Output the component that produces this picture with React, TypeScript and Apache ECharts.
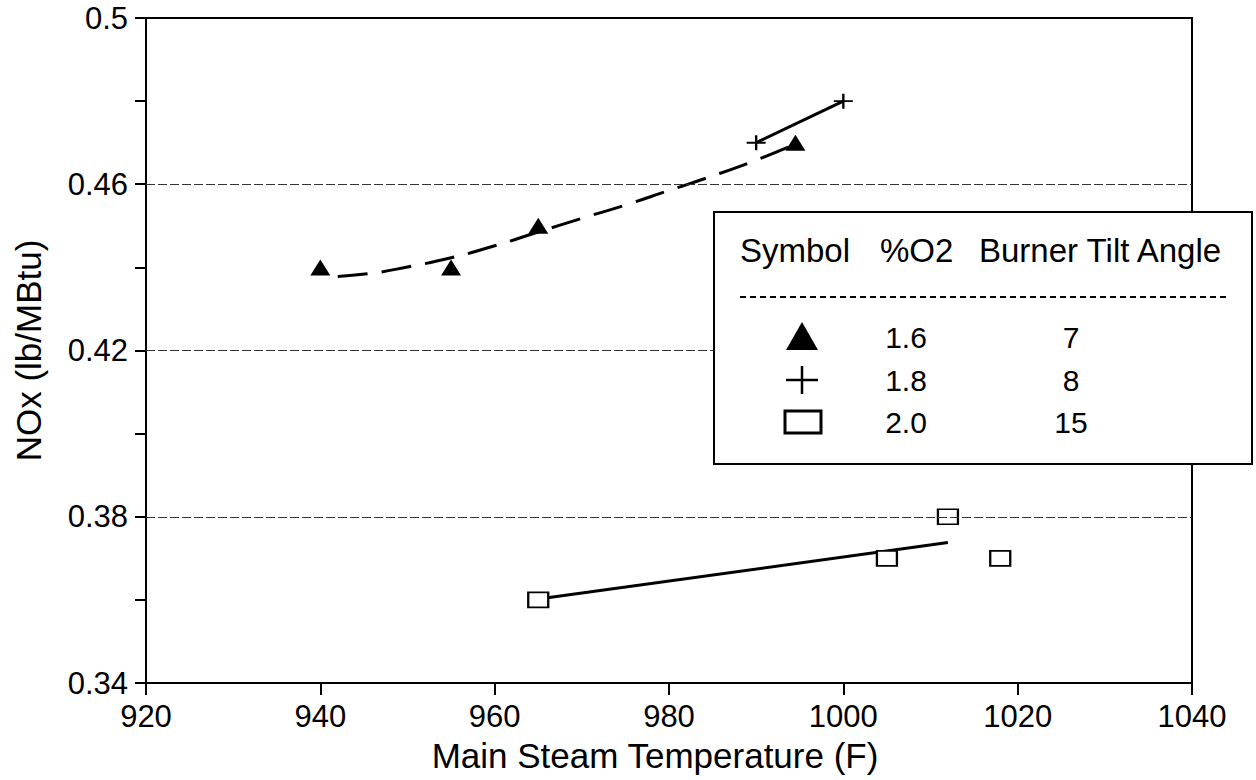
import React, { useEffect, useRef } from "react";
import * as echarts from "echarts";

// Data
const xTicks = [920, 940, 960, 980, 1000, 1020, 1040];
const yLabelTicks = [0.34, 0.38, 0.42, 0.46, 0.5];
const gridValues = [0.38, 0.42, 0.46];

// %O2 1.6, tilt 7 (triangles)
const triPoints: [number, number][] = [
  [940, 0.44],
  [955, 0.44],
  [965, 0.45],
  [994.5, 0.47],
];
// dashed fitted curve through the triangle points
const triCurve: [number, number][] = [
  [942, 0.4378],
  [946, 0.4386],
  [950, 0.4401],
  [955, 0.4423],
  [960, 0.4452],
  [965, 0.4485],
  [970, 0.4518],
  [975, 0.455],
  [980, 0.4585],
  [985, 0.462],
  [990, 0.4658],
  [994, 0.4692],
];
// %O2 1.8, tilt 8 (plus)
const plusPoints: [number, number][] = [
  [990, 0.47],
  [1000, 0.48],
];
// %O2 2.0, tilt 15 (squares)
const squarePoints: [number, number][] = [
  [965, 0.36],
  [1005, 0.37],
  [1012, 0.38],
  [1018, 0.37],
];
const squareFit: [number, number][] = [
  [965, 0.3602],
  [1012, 0.3738],
];

const legendHeader = ["Symbol", "%O2", "Burner Tilt Angle"];
const legendO2 = ["1.6", "1.8", "2.0"];
const legendTilt = ["7", "8", "15"];

const FONT = "'Liberation Sans', Arial, Helvetica, sans-serif";
const PLUS = "path://M0,8.75H20V11.25H0Z M8.75,0H11.25V20H8.75Z";

export default function App() {
  const ref = useRef<HTMLDivElement>(null);
  useEffect(() => {
    if (!ref.current) return;
    const chart = echarts.init(ref.current, undefined, { renderer: "svg" });
    const fmtY = (v: number) => {
      const k = (v - 0.34) / 0.04;
      if (Math.abs(k - Math.round(k)) > 1e-6) return "";
      return String(Number(v.toFixed(2)));
    };
    const rowY = [337, 380, 422];
    const headerFont = `33px ${FONT}`;
    const rowFont = `30px ${FONT}`;
    const legendGraphic: any[] = [
      {
        type: "rect",
        shape: { x: 714, y: 212, width: 538, height: 252 },
        style: { fill: "#fff", stroke: "#000", lineWidth: 2 },
        z: 100,
      },
      {
        type: "text",
        x: 740,
        y: 250,
        style: { text: legendHeader[0], font: headerFont, fill: "#000", textVerticalAlign: "middle" },
        z: 101,
      },
      {
        type: "text",
        x: 880,
        y: 250,
        style: { text: legendHeader[1], font: headerFont, fill: "#000", textVerticalAlign: "middle" },
        z: 101,
      },
      {
        type: "text",
        x: 979,
        y: 250,
        style: { text: legendHeader[2], font: headerFont, fill: "#000", textVerticalAlign: "middle" },
        z: 101,
      },
      {
        type: "line",
        shape: { x1: 740, y1: 297, x2: 1227, y2: 297 },
        style: { stroke: "#000", lineWidth: 2, lineDash: [6, 4] },
        z: 101,
      },
      {
        type: "polygon",
        shape: { points: [[802, rowY[0] - 15], [786, rowY[0] + 13], [818, rowY[0] + 13]] },
        style: { fill: "#000" },
        z: 101,
      },
      {
        type: "line",
        shape: { x1: 786, y1: rowY[1], x2: 818, y2: rowY[1] },
        style: { stroke: "#000", lineWidth: 2.5 },
        z: 101,
      },
      {
        type: "line",
        shape: { x1: 802, y1: rowY[1] - 14, x2: 802, y2: rowY[1] + 14 },
        style: { stroke: "#000", lineWidth: 2.5 },
        z: 101,
      },
      {
        type: "rect",
        shape: { x: 785, y: rowY[2] - 11, width: 36, height: 22 },
        style: { fill: "#fff", stroke: "#000", lineWidth: 3 },
        z: 101,
      },
    ];
    legendO2.forEach((t, i) => {
      legendGraphic.push({
        type: "text",
        x: 906,
        y: rowY[i],
        style: { text: t, font: rowFont, fill: "#000", textAlign: "center", textVerticalAlign: "middle" },
        z: 101,
      });
      legendGraphic.push({
        type: "text",
        x: 1071,
        y: rowY[i],
        style: { text: legendTilt[i], font: rowFont, fill: "#000", textAlign: "center", textVerticalAlign: "middle" },
        z: 101,
      });
    });

    chart.setOption({
      animation: false,
      backgroundColor: "#fff",
      textStyle: { fontFamily: FONT },
      grid: {
        left: 146,
        right: 64,
        top: 18,
        bottom: 97,
        show: true,
        borderColor: "#000",
        borderWidth: 2,
        backgroundColor: "transparent",
      },
      xAxis: {
        type: "value",
        min: xTicks[0],
        max: xTicks[xTicks.length - 1],
        interval: 20,
        name: "Main Steam Temperature (F)",
        nameLocation: "middle",
        nameGap: 55,
        nameTextStyle: { fontSize: 35, color: "#000", fontFamily: FONT, padding: [0, 28, 0, 0] },
        axisLine: { show: true, lineStyle: { color: "#000", width: 2 } },
        axisTick: { show: true, inside: false, length: 12, lineStyle: { color: "#000", width: 2 } },
        axisLabel: {
          fontSize: 31,
          color: "#000",
          margin: 18,
          fontFamily: FONT,
          formatter: (v: number) => String(v),
        },
        splitLine: { show: false },
      },
      yAxis: {
        type: "value",
        min: yLabelTicks[0],
        max: yLabelTicks[yLabelTicks.length - 1],
        interval: 0.02,
        name: "NOx (lb/MBtu)",
        nameLocation: "middle",
        nameGap: 100,
        nameTextStyle: { fontSize: 35, color: "#000", fontFamily: FONT },
        axisLine: { show: true, lineStyle: { color: "#000", width: 2 } },
        axisTick: { show: true, inside: false, length: 11, lineStyle: { color: "#000", width: 2 } },
        axisLabel: { fontSize: 31, color: "#000", margin: 18, fontFamily: FONT, formatter: fmtY },
        splitLine: { show: false },
      },
      series: [
        {
          name: "grid",
          type: "line",
          data: [],
          markLine: {
            silent: true,
            symbol: "none",
            label: { show: false },
            lineStyle: { color: "#333", width: 1, type: [9, 3] },
            data: gridValues.map((v) => ({ yAxis: v })),
          },
        },
        {
          name: "triFit",
          type: "line",
          smooth: true,
          showSymbol: false,
          symbol: "none",
          data: triCurve,
          lineStyle: { color: "#000", width: 3, type: [30, 14] },
          z: 3,
        },
        {
          name: "tri",
          type: "scatter",
          symbol: "triangle",
          symbolSize: [20, 16],
          data: triPoints,
          itemStyle: { color: "#000", opacity: 1 },
          z: 4,
        },
        {
          name: "plus",
          type: "line",
          symbol: PLUS,
          symbolSize: [19, 15],
          showAllSymbol: true,
          data: plusPoints,
          lineStyle: { color: "#000", width: 3 },
          itemStyle: { color: "#000", opacity: 1 },
          z: 4,
        },
        {
          name: "sqFit",
          type: "line",
          showSymbol: false,
          symbol: "none",
          data: squareFit,
          lineStyle: { color: "#000", width: 3 },
          z: 3,
        },
        {
          name: "squares",
          type: "scatter",
          symbol: "rect",
          symbolSize: [20, 15],
          data: squarePoints,
          itemStyle: { color: "#fff", borderColor: "#000", borderWidth: 2, opacity: 1 },
          z: 4,
        },
      ],
      graphic: legendGraphic,
    });
    return () => chart.dispose();
  }, []);
  return (
    <div
      ref={ref}
      style={{ position: "fixed", left: 0, top: 0, width: 1256, height: 780, background: "#fff" }}
    />
  );
}
